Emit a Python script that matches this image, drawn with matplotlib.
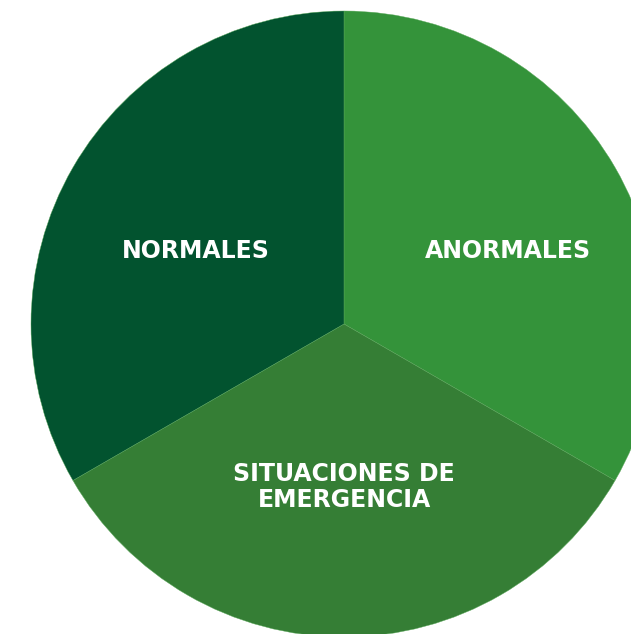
import matplotlib
matplotlib.use('Agg')
import matplotlib.pyplot as plt

labels = ['ANORMALES', 'SITUACIONES DE\nEMERGENCIA', 'NORMALES']
sizes = [1, 1, 1]
colors = ['#34933a', '#357e35', '#02532f']

fig = plt.figure(figsize=(6.31, 6.34), dpi=100)
ax = fig.add_axes([0, 0, 1, 1])

wedges, texts = ax.pie(sizes, colors=colors, startangle=90, counterclock=False,
                       center=(344, 310), radius=313, labels=labels, labeldistance=0.53,
                       wedgeprops=dict(edgecolor='#5aa85a', linewidth=0.3),
                       textprops=dict(color='white', fontfamily='DejaVu Sans', fontweight='bold',
                                      fontsize=17, linespacing=1.12))
ax.set_xlim(0, 631)
ax.set_ylim(0, 634)
ax.set_aspect('equal')
ax.axis('off')

# nudge the labels to where they sit in the original
label_pos = [(508, 383), (344, 147), (196, 383)]
for t, p in zip(texts, label_pos):
    t.set_position(p)
    t.set_ha('center')
    t.set_va('center')

fig.savefig('out.png', dpi=100)
